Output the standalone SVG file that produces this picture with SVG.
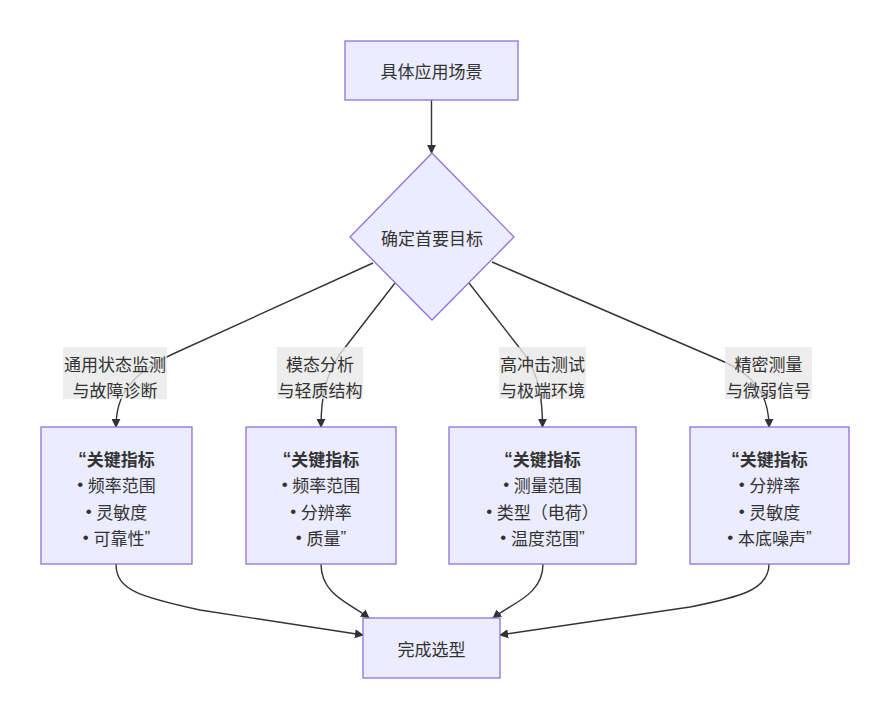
<svg xmlns="http://www.w3.org/2000/svg" width="890" height="719" viewBox="0 0 890 719">
<style>
.node{fill:#ECECFF;stroke:#9370DB;stroke-width:1.3}
.t{font-family:"Noto Sans CJK SC","Noto Sans",sans-serif;font-size:17px;fill:#333;text-anchor:middle;dominant-baseline:central}
.b{font-weight:bold}
.l{font-family:"Liberation Sans",Arial,sans-serif}
.e{fill:none;stroke:#333;stroke-width:1.4}
.lb{fill:#e8e8e8;fill-opacity:0.8}
</style>
<defs>
<marker id="ah" viewBox="0 0 10 10" refX="9" refY="5" markerWidth="9" markerHeight="9" markerUnits="userSpaceOnUse" orient="auto">
<path d="M0,0 L10,5 L0,10 z" fill="#333"/>
</marker>
</defs>
<rect width="890" height="719" fill="#fff"/>
<g id="edges">
<path class="e" d="M431.5,100 L431.5,153" marker-end="url(#ah)"/>
<path class="e" d="M373,263 L175,353 C130,374 116,395 116,427" marker-end="url(#ah)"/>
<path class="e" d="M395,283 L340,354 C326,375 321,395 321,427" marker-end="url(#ah)"/>
<path class="e" d="M469,283 L525,355 C538,375 542.5,395 542.5,427" marker-end="url(#ah)"/>
<path class="e" d="M492,262 L720,360 C755,375 769,395 769,427" marker-end="url(#ah)"/>
<path class="e" d="M116,564 C116,590 140,597 200,610 L363,635" marker-end="url(#ah)"/>
<path class="e" d="M321,564 C321,595 350,603 369,618" marker-end="url(#ah)"/>
<path class="e" d="M543,564 C543,595 512,603 493,618" marker-end="url(#ah)"/>
<path class="e" d="M769,564 C769,590 740,597 690,607 L500,635" marker-end="url(#ah)"/>
</g>
<g id="edge-labels">
<g id="label1"><rect class="lb" x="63" y="347" width="104" height="52"/><text class="t" x="115" y="363">通用状态监测</text><text class="t" x="115" y="389">与故障诊断</text></g>
<g id="label2"><rect class="lb" x="277" y="347" width="86" height="52"/><text class="t" x="320" y="363">模态分析</text><text class="t" x="320" y="389">与轻质结构</text></g>
<g id="label3"><rect class="lb" x="499" y="347" width="87" height="52"/><text class="t" x="542.5" y="363">高冲击测试</text><text class="t" x="542.5" y="389">与极端环境</text></g>
<g id="label4"><rect class="lb" x="725" y="347" width="87" height="52"/><text class="t" x="768.5" y="363">精密测量</text><text class="t" x="768.5" y="389">与微弱信号</text></g>
</g>
<g id="n-start"><rect class="node" x="345" y="41" width="173" height="59"/><text class="t" x="431.5" y="70.5">具体应用场景</text></g>
<g id="n-goal"><polygon class="node" points="432,153 514,237 432,320 350,237"/><text class="t" x="432" y="237">确定首要目标</text></g>
<g id="n-k1"><rect class="node" x="41" y="427" width="151" height="137"/>
<text class="t b" x="116.5" y="458"><tspan class="l">“</tspan>关键指标</text>
<text class="t" x="116.5" y="484"><tspan class="l">• </tspan>频率范围</text><text class="t" x="116.5" y="511"><tspan class="l">• </tspan>灵敏度</text><text class="t" x="116.5" y="537"><tspan class="l">• </tspan>可靠性<tspan class="l">”</tspan></text></g>
<g id="n-k2"><rect class="node" x="246" y="427" width="150" height="137"/>
<text class="t b" x="321" y="458"><tspan class="l">“</tspan>关键指标</text>
<text class="t" x="321" y="484"><tspan class="l">• </tspan>频率范围</text><text class="t" x="321" y="511"><tspan class="l">• </tspan>分辨率</text><text class="t" x="321" y="537"><tspan class="l">• </tspan>质量<tspan class="l">”</tspan></text></g>
<g id="n-k3"><rect class="node" x="449" y="427" width="187" height="137"/>
<text class="t b" x="542.5" y="458"><tspan class="l">“</tspan>关键指标</text>
<text class="t" x="542.5" y="484"><tspan class="l">• </tspan>测量范围</text><text class="t" x="542.5" y="511"><tspan class="l">• </tspan>类型（电荷）</text><text class="t" x="542.5" y="537"><tspan class="l">• </tspan>温度范围<tspan class="l">”</tspan></text></g>
<g id="n-k4"><rect class="node" x="690" y="427" width="159" height="137"/>
<text class="t b" x="769.5" y="458"><tspan class="l">“</tspan>关键指标</text>
<text class="t" x="769.5" y="484"><tspan class="l">• </tspan>分辨率</text><text class="t" x="769.5" y="511"><tspan class="l">• </tspan>灵敏度</text><text class="t" x="769.5" y="537"><tspan class="l">• </tspan>本底噪声<tspan class="l">”</tspan></text></g>
<g id="n-end"><rect class="node" x="363" y="618" width="137" height="60"/><text class="t" x="431.5" y="648">完成选型</text></g>
</svg>
